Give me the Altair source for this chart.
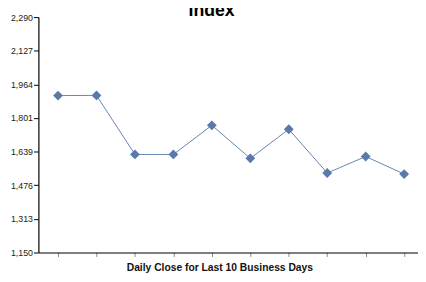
import altair as alt
import pandas as pd

days = [0, 1, 2, 3, 4, 5, 6, 7, 8, 9]
closes = [1910, 1911, 1625, 1625, 1766, 1606, 1747, 1535, 1615, 1530]
y_ticks = [1150, 1312.857, 1475.714, 1638.571, 1801.429, 1964.286, 2127.143, 2290]
title_text = ["Index"]

df = pd.DataFrame({"day": days, "close": closes})

FONT = "Liberation Sans"
COLOR = "#5a79aa"

x = alt.X(
    "day:Q",
    scale=alt.Scale(domain=[-0.51, 9.36], nice=False, zero=False),
    axis=alt.Axis(
        values=days, labels=False, grid=False, domainColor="#000", domainWidth=1.2,
        tickColor="#888", tickSize=4, title="Daily Close for Last 10 Business Days",
        titleFont=FONT, titleFontSize=10.5, titleFontWeight="bold", titleColor="#111",
        titleX=184.5, titleY=18, titleBaseline="alphabetic", titleAlign="center",
    ),
)
y = alt.Y(
    "close:Q",
    scale=alt.Scale(domain=[1150, 2290], nice=False, zero=False),
    axis=alt.Axis(
        values=y_ticks, format=",.0f", grid=False, domainColor="#000", domainWidth=1.2,
        tickColor="#000", tickSize=5, labelFont=FONT, labelFontSize=9, labelColor="#222",
        labelPadding=1, title=None,
    ),
)

line = alt.Chart(df).mark_line(color="#6683b5", strokeWidth=1).encode(x=x, y=y)
pts = alt.Chart(df).mark_point(shape="diamond", filled=True, size=100, color=COLOR, opacity=1).encode(x=x, y=y)
title = alt.Chart(pd.DataFrame({"t": title_text})).mark_text(
    font=FONT, fontSize=18, fontWeight="bold", color="#000", align="center", baseline="alphabetic"
).encode(text="t:N", x=alt.value(176.5), y=alt.value(-1.5))

chart = (line + pts + title).properties(
    width=387,
    height=240,
    autosize=alt.AutoSizeParams(type="none"),
    padding={"left": 31, "top": 6.7, "right": 0, "bottom": 20},
).configure_view(stroke=None)

chart.save("out.html", embed_options={"renderer": "svg", "actions": False})
